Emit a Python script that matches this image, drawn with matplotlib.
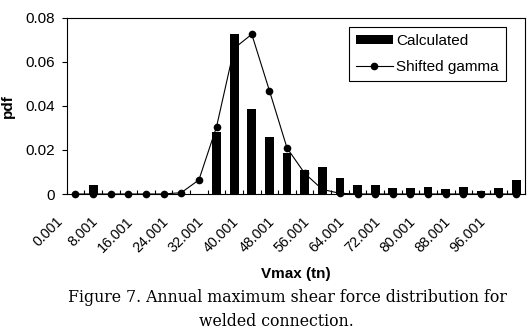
import matplotlib
matplotlib.use("Agg")
import matplotlib.pyplot as plt
import matplotlib.transforms as mtransforms
import numpy as np

plt.rcParams['font.family'] = ['Liberation Sans', 'DejaVu Sans']

# category starts (tn)
categories = ["0.001", "4.001", "8.001", "12.001", "16.001", "20.001", "24.001",
              "28.001", "32.001", "36.001", "40.001", "44.001", "48.001", "52.001",
              "56.001", "60.001", "64.001", "68.001", "72.001", "76.001", "80.001",
              "84.001", "88.001", "92.001", "96.001", "100.001"]

calculated = [0.0, 0.0041, 0.0, 0.0, 0.0, 0.0, 0.0, 0.0, 0.0282, 0.0725,
              0.0387, 0.0260, 0.0187, 0.0109, 0.0124, 0.0073, 0.0043, 0.0043,
              0.0027, 0.0027, 0.0032, 0.0023, 0.0032, 0.0014, 0.0027, 0.0064]

shifted_gamma = [0.0, 0.0, 0.0, 0.0, 0.0, 0.0, 0.0006, 0.0064, 0.0305, 0.0662,
                 0.0726, 0.0470, 0.0209, 0.0094, 0.0021, 0.0003, 0.0, 0.0,
                 0.0, 0.0, 0.0, 0.0, 0.0, 0.0, 0.0, 0.0]

yticks = [0, 0.02, 0.04, 0.06, 0.08]
ytick_labels = ["0", "0.02", "0.04", "0.06", "0.08"]


def plotChart():
    fig = plt.figure(figsize=(5.30, 3.33), dpi=100)
    ax = fig.add_axes([0.1258, 0.4174, 0.8648, 0.5286])

    x = np.arange(len(categories))
    ax.plot(x, shifted_gamma, "-o", color="black", lw=0.8, ms=4.5,
            clip_on=False, zorder=2, label="Shifted gamma")
    ax.bar(x, calculated, width=0.5, color="black", zorder=3, label="Calculated")

    ax.set_xlim(-0.5, len(categories) - 0.5)
    ax.set_ylim(0, 0.08)

    # ticks on category boundaries, labels on every other category
    ax.set_xticks(np.arange(len(categories) + 1) - 0.5)
    ax.set_xticklabels([])
    ax.tick_params(axis="x", which="major", direction="in", length=3, width=0.8)
    ax.set_xticks(x[::2][:13], minor=True)
    ax.set_xticklabels(categories[::2][:13], minor=True, rotation=45,
                       ha="right", va="top", fontsize=10.3)
    ax.tick_params(axis="x", which="minor", length=0, pad=14.5)
    offset = mtransforms.ScaledTranslation(-0.10, 0, fig.dpi_scale_trans)
    for lab in ax.xaxis.get_minorticklabels():
        lab.set_transform(lab.get_transform() + offset)

    ax.set_yticks(yticks)
    ax.set_yticklabels(ytick_labels, fontsize=11)
    ax.tick_params(axis="y", direction="out", length=3.5, width=0.8, pad=5)

    for sp in ax.spines.values():
        sp.set_linewidth(0.8)

    ax.set_ylabel("pdf", fontsize=11, fontweight="bold")
    ax.yaxis.set_label_coords(-0.113, 0.5)
    ax.set_xlabel("Vmax (tn)", fontsize=11, fontweight="bold")
    ax.xaxis.set_label_coords(0.5, -0.415)

    handles, labels = ax.get_legend_handles_labels()
    leg = ax.legend(handles[::-1], labels[::-1], loc="upper right",
                    bbox_to_anchor=(506 / 530, 1 - 27 / 333),
                    bbox_transform=fig.transFigure, borderaxespad=0,
                    fontsize=11, frameon=True, fancybox=False, framealpha=1,
                    edgecolor="black", handlelength=2.4, handleheight=0.5,
                    handletextpad=0.25, labelspacing=0.8, borderpad=0.45)
    leg.get_frame().set_linewidth(0.8)

    fig.text(287.5 / 530, 1 - 297 / 333,
             "Figure 7. Annual maximum shear force distribution for",
             family="DejaVu Serif", fontsize=11.3, ha="center", va="center")
    fig.text(276 / 530, 1 - 321 / 333, "welded connection.",
             family="DejaVu Serif", fontsize=11.3, ha="center", va="center")
    return fig


if __name__ == '__main__':
    fig = plotChart()
    fig.savefig("out.png", dpi=100)
